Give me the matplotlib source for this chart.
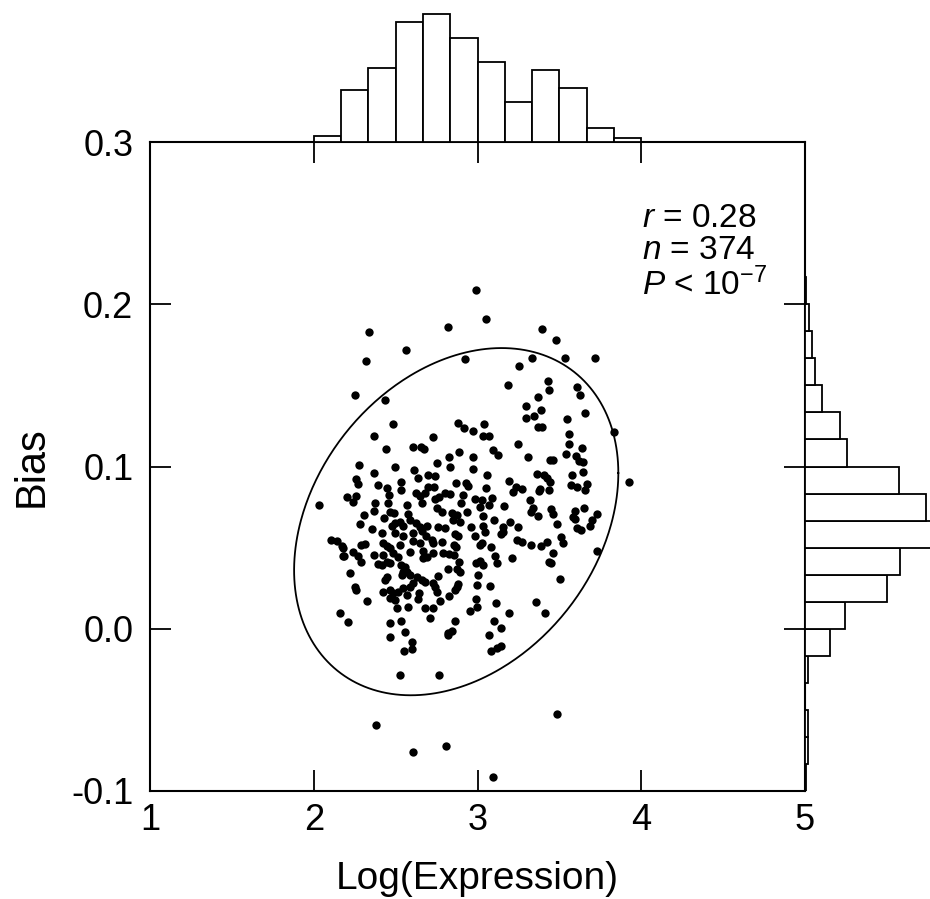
import numpy as np
import matplotlib
matplotlib.use("Agg")
import matplotlib.pyplot as plt

plt.rcParams['font.family'] = ['Liberation Sans', 'DejaVu Sans']
plt.rcParams['mathtext.fontset'] = 'custom'
plt.rcParams['mathtext.rm'] = 'Liberation Sans'
plt.rcParams['mathtext.it'] = 'Liberation Sans:italic'

# -------------------------------------------------------------------
# data
# -------------------------------------------------------------------
# scatter: log(expression) vs bias
log_expr = [
    # upper part
    2.335, 2.818, 2.565, 2.317, 2.924, 2.252, 2.437, 2.482, 2.879, 2.916, 2.368, 2.730,
    2.989, 3.050, 3.394, 3.477, 3.335, 3.532, 3.718, 3.251, 3.186, 3.432, 3.437, 3.610,
    3.628, 3.369, 3.294, 3.386, 3.347, 3.298, 3.544, 3.656, 3.832, 3.369, 3.394, 3.040,
    2.972, 3.031, 3.068, 3.559,
    # far left
    2.034, 2.103, 2.140, 2.181, 2.181, 2.160,
    # left-middle block
    2.439, 2.604, 2.657, 2.673, 2.276, 2.496, 2.368, 2.612, 2.258, 2.268, 2.390, 2.533,
    2.634, 2.699, 2.447, 2.530, 2.457, 2.205, 2.258, 2.241, 2.624, 2.649, 2.679, 2.699,
    2.374, 2.455, 2.567, 2.659, 2.368, 2.465, 2.490, 2.307, 2.429, 2.577, 2.587, 2.526,
    2.282, 2.476, 2.496, 2.547, 2.624, 2.649, 2.693, 2.353,
    # left-lower block
    2.170, 2.184, 2.237, 2.286, 2.313, 2.272, 2.286, 2.368, 2.414, 2.425, 2.445, 2.465,
    2.496, 2.547, 2.526, 2.486, 2.516, 2.425, 2.445, 2.465, 2.394, 2.414, 2.608, 2.659,
    2.685, 2.604, 2.649, 2.587, 2.669, 2.669, 2.693, 2.530, 2.557, 2.547, 2.567, 2.587,
    2.537, 2.221, 2.445, 2.435, 2.628, 2.659, 2.679, 2.608, 2.587, 2.252, 2.258, 2.465,
    2.486, 2.516, 2.547, 2.567, 2.425, 2.465, 2.496, 2.644, 2.638, 2.323, 2.577, 2.506,
    2.679,
    # centre-middle block
    3.093, 3.127, 2.889, 3.249, 2.828, 2.971, 2.751, 2.832, 2.975, 2.741, 3.060, 3.192,
    2.734, 2.869, 2.930, 2.944, 3.052, 2.802, 2.832, 2.914, 3.219, 3.235, 2.741, 2.767,
    2.985, 3.026, 3.087, 2.897, 3.016, 3.072, 3.162, 2.751, 2.781, 2.842, 2.873, 2.934,
    3.032, 2.852, 2.893, 3.101, 3.199, 2.958, 3.036, 3.158, 3.249, 2.761, 2.802,
    # centre-lower block
    2.720, 2.730, 2.781, 2.863, 2.883, 2.985, 3.046, 3.142, 3.154, 3.239, 2.857, 2.869,
    3.016, 3.026, 3.080, 2.730, 2.791, 2.828, 2.857, 3.107, 3.117, 3.209, 2.889, 2.991,
    3.016, 3.032, 2.822, 2.877, 2.893, 3.005, 2.761, 2.995, 3.076, 2.726, 2.741, 2.751,
    2.873, 2.883, 2.863, 2.828, 2.771, 2.991, 3.113, 2.730, 2.995, 2.954, 3.194,
    # right block
    3.561, 3.638, 3.308, 3.540, 3.601, 3.443, 3.463, 3.618, 3.646, 3.646, 3.361, 3.406,
    3.426, 3.577, 3.443, 3.382, 3.373, 3.439, 3.573, 3.605, 3.667, 3.658, 3.927, 3.272,
    3.320, 3.337, 3.325, 3.367, 3.447, 3.459, 3.650, 3.597, 3.585, 3.593, 3.728, 3.697,
    3.487, 3.610, 3.630, 3.687, 3.270, 3.512, 3.520, 3.422, 3.386, 3.329, 3.732, 3.463,
    3.439, 3.447, 3.504, 3.357, 3.412,
    # bottom
    2.209, 2.468, 2.533, 2.708, 2.865, 3.101, 3.144, 2.555, 2.468, 2.818, 2.842, 2.822,
    3.072, 2.602, 2.602, 2.549, 3.085, 3.117, 3.146, 2.529, 2.765, 2.382, 2.608, 2.810,
    3.093, 3.484,
]
bias = [
    # upper part
    0.183, 0.186, 0.172, 0.165, 0.166, 0.144, 0.141, 0.126, 0.127, 0.124, 0.119, 0.118,
    0.209, 0.191, 0.185, 0.178, 0.167, 0.167, 0.167, 0.162, 0.150, 0.153, 0.147, 0.149,
    0.144, 0.143, 0.137, 0.135, 0.131, 0.130, 0.129, 0.133, 0.121, 0.1245, 0.1245, 0.126,
    0.122, 0.119, 0.119, 0.120,
    # far left
    0.076, 0.055, 0.054, 0.050, 0.045, 0.010,
    # left-middle block
    0.1106, 0.1118, 0.112, 0.111, 0.101, 0.100, 0.096, 0.098, 0.0925, 0.0894, 0.0884, 0.0904,
    0.0927, 0.0947, 0.087, 0.0855, 0.0826, 0.081, 0.0818, 0.078, 0.0834, 0.082, 0.0834, 0.0875,
    0.0777, 0.0773, 0.076, 0.0773, 0.0727, 0.0721, 0.0715, 0.0701, 0.068, 0.0707, 0.067, 0.066,
    0.0645, 0.0633, 0.065, 0.0633, 0.065, 0.0625, 0.0633, 0.0612,
    # left-lower block
    0.051, 0.0449, 0.047, 0.0517, 0.0523, 0.045, 0.0414, 0.0455, 0.0593, 0.053, 0.051, 0.0496,
    0.0593, 0.0572, 0.0517, 0.0465, 0.0445, 0.0455, 0.0414, 0.0404, 0.040, 0.0393, 0.059, 0.060,
    0.057, 0.0543, 0.0527, 0.047, 0.0482, 0.0434, 0.0445, 0.0393, 0.0383, 0.0352, 0.0352, 0.0332,
    0.0332, 0.0342, 0.0321, 0.0301, 0.0321, 0.0301, 0.029, 0.028, 0.026, 0.026, 0.0239, 0.0239,
    0.0223, 0.0229, 0.025, 0.0209, 0.0229, 0.0188, 0.0178, 0.0223, 0.0182, 0.0174, 0.0137, 0.0126,
    0.0126,
    # centre-middle block
    0.110, 0.107, 0.1091, 0.1138, 0.106, 0.106, 0.1023, 0.0999, 0.0982, 0.0941, 0.0947, 0.0912,
    0.0875, 0.0896, 0.0896, 0.088, 0.0865, 0.0834, 0.083, 0.0824, 0.0845, 0.0875, 0.0797, 0.081,
    0.0797, 0.0793, 0.0804, 0.0773, 0.0752, 0.0762, 0.0756, 0.0742, 0.0721, 0.0715, 0.0701, 0.0721,
    0.0695, 0.067, 0.066, 0.067, 0.066, 0.0625, 0.0633, 0.0625, 0.0625, 0.063, 0.0619,
    # centre-lower block
    0.0547, 0.0527, 0.0537, 0.0584, 0.0572, 0.0572, 0.0599, 0.0584, 0.0599, 0.0547, 0.0517, 0.0506,
    0.0517, 0.0527, 0.0502, 0.0465, 0.0469, 0.046, 0.0455, 0.0449, 0.0408, 0.0434, 0.0414, 0.0404,
    0.042, 0.0391, 0.0367, 0.0367, 0.0352, 0.0332, 0.0325, 0.027, 0.0264, 0.028, 0.026, 0.0229,
    0.026, 0.0276, 0.0239, 0.0202, 0.0174, 0.0182, 0.0157, 0.0126, 0.0132, 0.0112, 0.0099,
    # right block
    0.1138, 0.1112, 0.1056, 0.1077, 0.1064, 0.104, 0.104, 0.1036, 0.1027, 0.0964, 0.0953, 0.0945,
    0.0927, 0.0945, 0.0906, 0.0859, 0.0849, 0.0855, 0.0886, 0.0875, 0.089, 0.0855, 0.0904, 0.0861,
    0.0793, 0.0742, 0.0721, 0.0695, 0.0736, 0.0707, 0.0742, 0.0725, 0.069, 0.0676, 0.0707, 0.067,
    0.0645, 0.0619, 0.0608, 0.0633, 0.0536, 0.0567, 0.0526, 0.0536, 0.051, 0.0518, 0.0481, 0.0469,
    0.0413, 0.0407, 0.0304, 0.0167, 0.0099,
    # bottom
    0.0043, 0.0037, 0.005, 0.0066, 0.005, 0.005, 0.0002, -0.0022, -0.0049, -0.0028, -0.0012, -0.0039,
    -0.0037, -0.008, -0.0123, -0.0137, -0.0139, -0.0121, -0.0107, -0.0283, -0.0283, -0.0593, -0.0758, -0.0725,
    -0.0912, -0.0526,
]

# top histogram of log(expression), bins of 1/6 starting at 2
top_start, top_width = 2.0, 1 / 6
top_counts = [3, 26, 37, 60, 64, 52, 40, 20, 36, 27, 7, 2]

# right histogram of bias, bins of 1/60 starting at -0.1
right_start, right_width = -0.1, 1 / 60
right_counts = [0.5, 1.4, 1.4, 0, 1.4, 12.7, 20.4, 41.3, 48.1, 70,
                61.2, 47.2, 21.3, 17.4, 8.4, 5.1, 3.4, 2.2, 0.5]

# ellipse (centre, spreads, correlation)
ell_cx, ell_cy = 2.87, 0.066
ell_sx, ell_sy = 0.99, 0.107
ell_r = 0.28

stats_lines = [r"$r$ = 0.28", r"$n$ = 374", r"$P$ < 10$^{\mathregular{-7}}$"]

# -------------------------------------------------------------------
# figure
# -------------------------------------------------------------------
W, H = 930, 899
fig = plt.figure(figsize=(W / 100, H / 100), dpi=100)

L, B, AW, AH = 150 / W, (H - 791) / H, 655 / W, 649 / H
ax = fig.add_axes([L, B, AW, AH])
ax_top = fig.add_axes([L, B + AH, AW, 142 / H])
ax_r = fig.add_axes([L + AW, B, 125 / W, AH])

ax.scatter(log_expr, bias, s=36, c="black", linewidths=0, zorder=3)

t = np.linspace(0, 2 * np.pi, 400)
ex = ell_cx + ell_sx * np.cos(t)
ey = ell_cy + ell_sy * (ell_r * np.cos(t) + np.sqrt(1 - ell_r ** 2) * np.sin(t))
ax.plot(ex, ey, color="black", lw=1.3)

ax.set_xlim(1, 5)
ax.set_ylim(-0.1, 0.3)
ax.set_xticks([1, 2, 3, 4, 5])
ax.set_xticklabels(["1", "2", "3", "4", "5"])
ax.set_yticks([-0.1, 0.0, 0.1, 0.2, 0.3])
ax.set_yticklabels(["-0.1", "0.0", "0.1", "0.2", "0.3"])
ax.tick_params(direction="in", length=15, width=1.3, top=True, right=True,
               labelsize=26)
ax.tick_params(axis="y", pad=12)
ax.tick_params(axis="x", pad=9)
for s in ax.spines.values():
    s.set_linewidth(1.5)
ax.set_xlabel("Log(Expression)", fontsize=28, labelpad=16)
ax.set_ylabel("Bias", fontsize=30, labelpad=14)

ax.text(0.751, 0.906, "\n".join(stats_lines), transform=ax.transAxes,
        fontsize=24, va="top", ha="left", linespacing=1.05)

top_left = [top_start + i * top_width for i in range(len(top_counts))]
ax_top.bar(top_left, top_counts, width=top_width, align="edge",
           facecolor="white", edgecolor="black", lw=1.3)
ax_top.set_xlim(1, 5)
ax_top.set_ylim(0, 71)
ax_top.axis("off")

right_bottom = [right_start + i * right_width for i in range(len(right_counts))]
ax_r.barh(right_bottom, right_counts, height=right_width, align="edge",
          facecolor="white", edgecolor="black", lw=1.3)
ax_r.set_ylim(-0.1, 0.3)
ax_r.set_xlim(0, 63)
ax_r.axis("off")

fig.savefig("out.png", dpi=100)
